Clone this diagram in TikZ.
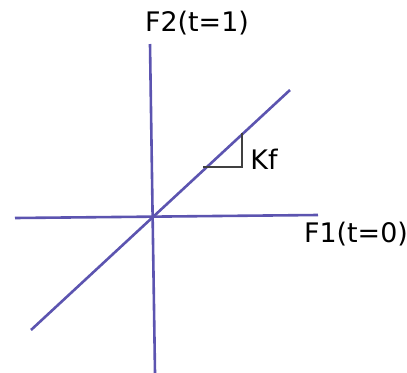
\documentclass[tikz,border=0pt]{standalone}
\usepackage{fontspec}
\setmainfont{DejaVu Sans}
\definecolor{axisblue}{RGB}{92,84,176}
\tikzset{axis/.style={draw=axisblue, line width=2.6bp},
  tri/.style={draw=black!75, line width=1.8bp},
  lbl/.style={font=\fontsize{27}{30}\selectfont, inner sep=0pt}}

\begin{document}
\begin{tikzpicture}[x=1bp, y=-1bp]
  \useasboundingbox (0,0) rectangle (407,373);
  % axes
  \coordinate (vtop) at (150,44);
  \coordinate (vbot) at (155,373);
  \coordinate (hleft) at (15,218);
  \coordinate (hright) at (318,215);
  \draw[axis] (vtop) -- (vbot);
  \draw[axis] (hleft) -- (hright);
  % diagonal
  \coordinate (dlow) at (31,330);
  \coordinate (dhigh) at (290,90);
  \draw[axis] (dlow) -- (dhigh);
  % slope triangle
  \coordinate (ta) at (203,167);
  \coordinate (tb) at (242,167);
  \coordinate (tc) at (242,133);
  \draw[tri] (ta) -- (tb) -- (tc);
  % labels
  \node[lbl] (f2) at (197,23) {F2(t=1)};
  \node[lbl] (f1) at (356,234) {F1(t=0)};
  \node[lbl] (kf) at (264,159) {Kf};
\end{tikzpicture}
\end{document}
